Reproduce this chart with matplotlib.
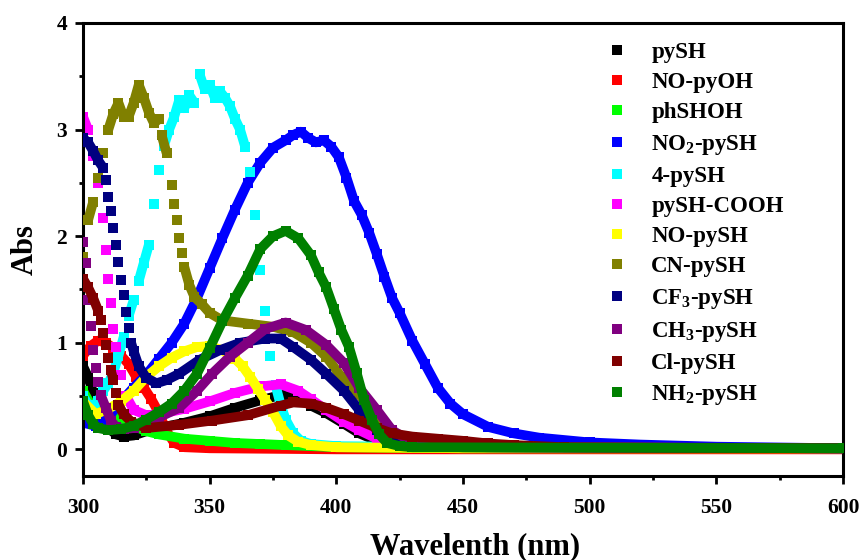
import matplotlib
matplotlib.use('Agg')
import matplotlib.pyplot as plt
from matplotlib.lines import Line2D
from matplotlib.ticker import MultipleLocator
import numpy as np

plt.rcParams['font.family'] = ['Liberation Serif', 'DejaVu Serif']
plt.rcParams['font.weight'] = 'bold'
plt.rcParams['mathtext.fontset'] = 'custom'
plt.rcParams['mathtext.rm'] = 'Liberation Serif:bold'
plt.rcParams['mathtext.bf'] = 'Liberation Serif:bold'
plt.rcParams['mathtext.it'] = 'Liberation Serif:bold'

# ---- data (wavelength nm, absorbance) ----
wl_pysh = [300, 302, 304, 306, 308, 310, 313, 316, 320, 325, 330, 340, 350, 360, 370, 378, 385, 390, 396, 403, 409, 416, 422, 430, 450, 500, 600]
ab_pysh = [0.78, 0.68, 0.53, 0.39, 0.28, 0.2, 0.14, 0.12, 0.13, 0.17, 0.2, 0.25, 0.31, 0.39, 0.46, 0.51, 0.48, 0.41, 0.34, 0.24, 0.15, 0.08, 0.05, 0.02, 0.01, 0.01, 0.01]

wl_nopyoh = [300, 303, 306, 309, 312, 315, 318, 321, 324, 327, 330, 333, 336, 340, 350, 400, 600]
ab_nopyoh = [0.88, 0.97, 1.02, 1.0, 0.95, 0.88, 0.8, 0.68, 0.58, 0.47, 0.34, 0.17, 0.06, 0.02, 0.01, 0.0, 0.0]

wl_phshoh = [300, 303, 306, 310, 315, 320, 325, 330, 340, 350, 360, 370, 380, 400, 450, 600]
ab_phshoh = [0.55, 0.42, 0.36, 0.33, 0.29, 0.22, 0.17, 0.14, 0.1, 0.08, 0.06, 0.05, 0.04, 0.02, 0.01, 0.01]

wl_no2 = [300, 305, 310, 315, 320, 325, 330, 335, 340, 345, 350, 355, 360, 365, 370, 375, 380, 383, 386, 389, 392, 395, 398, 401, 404, 407, 410, 413, 416, 419, 422, 425, 430, 435, 440, 445, 450, 460, 470, 480, 500, 520, 550, 600]
ab_no2 = [0.25, 0.22, 0.3, 0.45, 0.58, 0.7, 0.85, 1.0, 1.18, 1.42, 1.7, 1.98, 2.25, 2.5, 2.69, 2.83, 2.9, 2.95, 2.98, 2.92, 2.88, 2.9, 2.84, 2.74, 2.55, 2.33, 2.2, 2.03, 1.83, 1.62, 1.42, 1.28, 1.02, 0.8, 0.58, 0.43, 0.33, 0.21, 0.15, 0.11, 0.065, 0.045, 0.025, 0.01]

wl_4pysh = [300, 302, 304, 306, 308, 310, 312, 314, 316, 318, 320, 322, 324, 326, 328, 330, 332, 334, 336, 338, 340, 342, 344, 346, 348, 350, 352, 354, 356, 358, 360, 362, 364, 366, 368, 370, 372, 374, 376, 378, 380, 383, 386, 390, 400, 450, 600]
ab_4pysh = [0.5, 0.42, 0.4, 0.45, 0.55, 0.62, 0.72, 0.88, 1.05, 1.25, 1.4, 1.58, 1.75, 1.92, 2.3, 2.62, 2.85, 3.0, 3.12, 3.28, 3.2, 3.32, 3.25, 3.52, 3.38, 3.42, 3.3, 3.36, 3.3, 3.22, 3.1, 3.0, 2.84, 2.6, 2.2, 1.68, 1.3, 0.88, 0.6, 0.42, 0.28, 0.15, 0.08, 0.05, 0.03, 0.02, 0.01]

wl_cooh = [300, 302, 304, 306, 308, 309, 310, 311, 312, 313, 315, 317, 320, 325, 330, 340, 350, 360, 370, 378, 385, 390, 396, 403, 409, 416, 425, 440, 600]
ab_cooh = [3.12, 3.0, 2.75, 2.5, 2.17, 1.87, 1.6, 1.37, 1.13, 0.96, 0.7, 0.5, 0.37, 0.32, 0.33, 0.38, 0.45, 0.53, 0.59, 0.61, 0.55, 0.47, 0.37, 0.26, 0.18, 0.1, 0.04, 0.02, 0.01]

wl_nopysh = [300, 305, 310, 315, 320, 325, 330, 335, 340, 345, 350, 355, 360, 363, 366, 369, 372, 375, 378, 381, 385, 390, 400, 450, 600]
ab_nopysh = [0.45, 0.33, 0.38, 0.45, 0.55, 0.68, 0.78, 0.86, 0.92, 0.96, 0.97, 0.93, 0.85, 0.78, 0.68, 0.57, 0.46, 0.35, 0.22, 0.13, 0.07, 0.04, 0.02, 0.01, 0.01]

wl_cn = [300, 302, 304, 306, 308, 310, 312, 314, 316, 318, 320, 322, 324, 326, 328, 330, 331, 333, 335, 336, 337, 338, 339, 340, 342, 344, 347, 350, 355, 365, 375, 383, 390, 396, 402, 409, 416, 422, 430, 450, 600]
ab_cn = [1.8, 2.15, 2.32, 2.55, 2.78, 3.0, 3.15, 3.25, 3.12, 3.12, 3.25, 3.42, 3.3, 3.16, 3.06, 3.1, 2.95, 2.78, 2.48, 2.3, 2.15, 1.98, 1.84, 1.71, 1.54, 1.43, 1.36, 1.28, 1.21, 1.18, 1.15, 1.1, 1.0, 0.87, 0.68, 0.52, 0.28, 0.1, 0.03, 0.02, 0.01]

wl_cf3 = [300, 302, 304, 306, 308, 309, 310, 311, 312, 313, 314, 315, 316, 317, 318, 319, 320, 322, 325, 329, 333, 338, 346, 354, 362, 372, 378, 383, 390, 396, 403, 409, 416, 422, 430, 450, 600]
ab_cf3 = [2.92, 2.88, 2.8, 2.71, 2.64, 2.53, 2.37, 2.24, 2.08, 1.92, 1.76, 1.59, 1.45, 1.29, 1.14, 1.0, 0.92, 0.78, 0.67, 0.62, 0.65, 0.71, 0.84, 0.93, 1.0, 1.04, 1.04, 0.96, 0.84, 0.71, 0.55, 0.37, 0.18, 0.08, 0.03, 0.02, 0.01]

wl_ch3 = [300, 301, 302, 303, 304, 305, 306, 307, 309, 311, 313, 316, 320, 325, 330, 338, 345, 351, 358, 365, 372, 380, 388, 396, 403, 409, 416, 422, 429, 440, 460, 600]
ab_ch3 = [1.95, 1.75, 1.4, 1.16, 0.93, 0.76, 0.63, 0.51, 0.39, 0.27, 0.21, 0.19, 0.2, 0.25, 0.3, 0.39, 0.55, 0.71, 0.87, 1.0, 1.13, 1.19, 1.12, 0.98, 0.81, 0.58, 0.37, 0.18, 0.08, 0.03, 0.02, 0.01]

wl_cl = [300, 302, 304, 306, 307, 308, 309, 310, 311, 312, 313, 314, 316, 319, 325, 338, 351, 365, 378, 383, 390, 396, 403, 409, 416, 422, 430, 440, 450, 460, 470, 490, 600]
ab_cl = [1.6, 1.52, 1.42, 1.3, 1.21, 1.09, 0.98, 0.86, 0.74, 0.65, 0.53, 0.42, 0.33, 0.26, 0.2, 0.23, 0.27, 0.32, 0.41, 0.44, 0.43, 0.39, 0.33, 0.27, 0.2, 0.15, 0.12, 0.1, 0.08, 0.055, 0.04, 0.02, 0.01]

wl_nh2 = [300, 302, 304, 306, 310, 315, 320, 325, 330, 335, 340, 345, 350, 355, 360, 365, 370, 375, 380, 385, 390, 393, 396, 399, 402, 405, 408, 411, 414, 417, 420, 425, 430, 600]
ab_nh2 = [0.45, 0.32, 0.24, 0.2, 0.18, 0.19, 0.22, 0.28, 0.35, 0.43, 0.55, 0.71, 0.95, 1.2, 1.42, 1.63, 1.88, 2.0, 2.05, 1.98, 1.82, 1.66, 1.52, 1.32, 1.12, 0.96, 0.72, 0.46, 0.28, 0.14, 0.06, 0.03, 0.02, 0.01]

labels = ['pySH', 'NO-pyOH', 'phSHOH', r'NO$_2$-pySH', '4-pySH', 'pySH-COOH',
          'NO-pySH', 'CN-pySH', r'CF$_3$-pySH', r'CH$_3$-pySH', 'Cl-pySH', r'NH$_2$-pySH']
colors = ['#000000', '#ff0000', '#00ff00', '#0000ff', '#00ffff', '#ff00ff',
          '#ffff00', '#808000', '#000080', '#800080', '#800000', '#008000']
series = [(wl_pysh, ab_pysh), (wl_nopyoh, ab_nopyoh), (wl_phshoh, ab_phshoh),
          (wl_no2, ab_no2), (wl_4pysh, ab_4pysh), (wl_cooh, ab_cooh),
          (wl_nopysh, ab_nopysh), (wl_cn, ab_cn), (wl_cf3, ab_cf3),
          (wl_ch3, ab_ch3), (wl_cl, ab_cl), (wl_nh2, ab_nh2)]

fig = plt.figure(figsize=(8.64, 5.6), dpi=100)
ax = fig.add_axes([83/864, 1-476/560, 760/864, 453/560])

# dense square symbols merge into a band where the curve is flat,
# and separate where it is steep: break the band on steep steps
for i, ((x, y), c) in enumerate(zip(series, colors)):
    x = np.asarray(x, float)
    y = np.asarray(y, float)
    xs, ys = [x[0]], [y[0]]
    for k in range(1, len(x)):
        if abs((y[k]-y[k-1])/(x[k]-x[k-1])) > 0.09:
            xs.append(np.nan)
            ys.append(np.nan)
        xs.append(x[k])
        ys.append(y[k])
    z = 2 + i*0.1
    ax.plot(xs, ys, color=c, lw=7, solid_capstyle='butt', zorder=z)
    ax.plot(x, y, ls='none', marker='s', ms=7, mew=0, color=c, zorder=z)

ax.set_xlim(300, 600)
ax.set_ylim(-0.25, 4)
ax.xaxis.set_major_locator(MultipleLocator(50))
ax.xaxis.set_minor_locator(MultipleLocator(25))
ax.yaxis.set_major_locator(MultipleLocator(1))
ax.yaxis.set_minor_locator(MultipleLocator(0.5))
ax.tick_params(which='major', direction='out', length=5.5, width=2, labelsize=15.5)
ax.tick_params(which='minor', direction='out', length=3, width=2)
ax.tick_params(axis='x', which='major', pad=10)
ax.tick_params(axis='y', which='major', pad=6)
for s in ax.spines.values():
    s.set_linewidth(2.2)

ax.set_xlabel('Wavelenth (nm)', fontsize=22, fontweight='bold')
ax.xaxis.set_label_coords(0.516, -0.125)
ax.set_ylabel('Abs', fontsize=22, fontweight='bold', labelpad=12)

handles = [Line2D([], [], ls='none', marker='s', ms=6.5, mew=0, color=c) for c in colors]
ax.legend(handles, labels, loc='upper left', bbox_to_anchor=(606/864, 1-42/560),
          bbox_transform=fig.transFigure, frameon=False, fontsize=16.5,
          handlelength=1.0, handletextpad=0.98, labelspacing=0.40,
          borderpad=0, borderaxespad=0)

fig.savefig('out.png', dpi=100)
